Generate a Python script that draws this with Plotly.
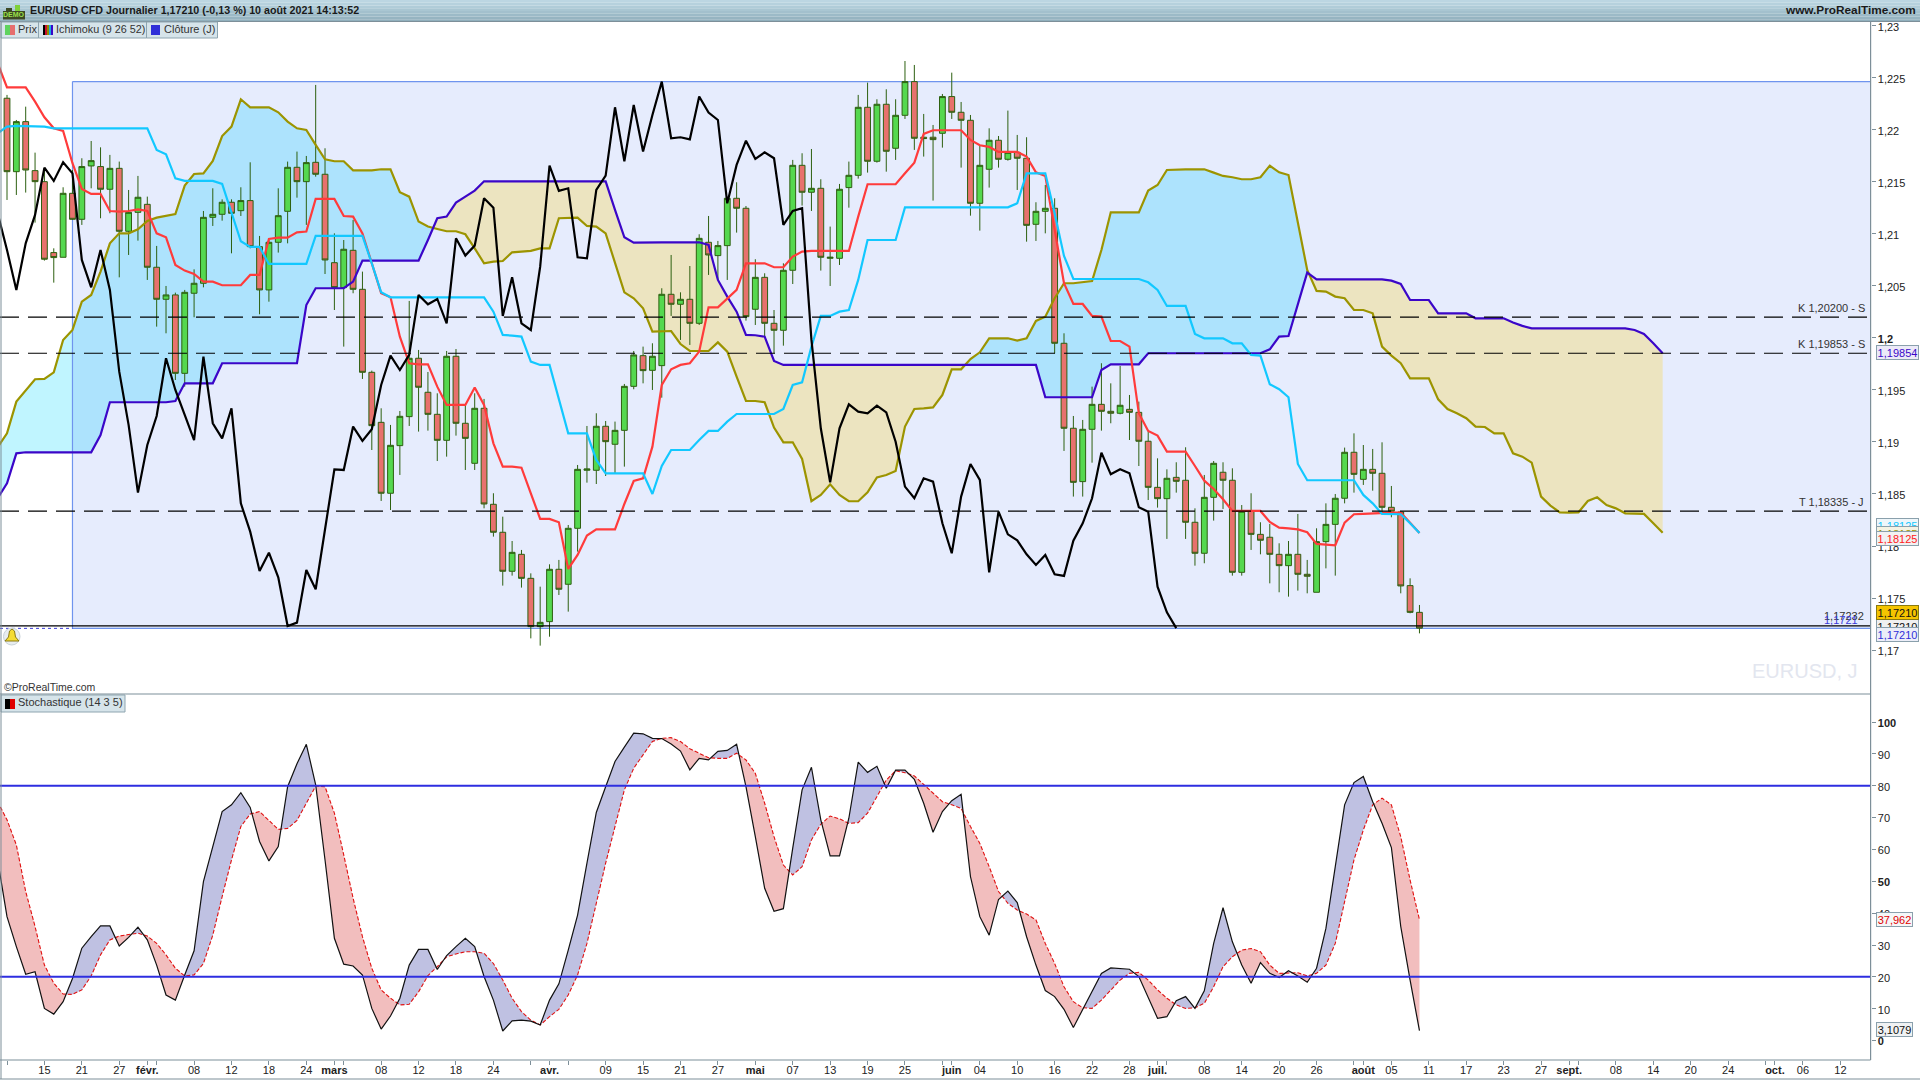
import numpy as np
import plotly.graph_objects as go

W, H = 1920, 1080
FONT = "Liberation Sans"

# ---------------- data ----------------
first_day = "2021-01-11"
open_ = [1.22305,1.21599,1.22080,1.21609,1.21503,1.20821,1.20776,1.21391,1.21141,1.21654,
1.21648,1.21430,1.21631,1.21026,1.21208,1.21285,1.20680,1.20372,1.20414,1.19660,
1.20430,1.20526,1.21160,1.21189,1.21305,1.21224,1.21321,1.20878,1.20462,1.20920,
1.21218,1.21641,1.21503,1.21689,1.21574,1.20724,1.20484,1.20843,1.20468,1.19670,
1.19189,1.18507,1.18965,1.19244,1.19805,1.19478,1.19266,1.19016,1.19824,1.19180,
1.18795,1.19324,1.18401,1.18132,1.17757,1.17920,1.17689,1.17225,1.17273,1.17776,
1.17632,1.18170,1.18728,1.18728,1.19151,1.18978,1.19112,1.19535,1.19830,1.19689,
1.19734,1.20420,1.20324,1.20372,1.20141,1.20920,1.20792,1.20888,1.21343,1.21247,
1.20276,1.20583,1.20141,1.20074,1.20651,1.21660,1.21401,1.21439,1.20766,1.20766,
1.21446,1.21564,1.22218,1.21699,1.22247,1.21824,1.22141,1.22465,1.21930,1.21930,
1.21968,1.22321,1.22170,1.22093,1.21295,1.21622,1.21901,1.21718,1.21785,1.21728,
1.21093,1.21218,1.21247,1.19949,1.19132,1.18619,1.19122,1.19362,1.19295,1.19276,
1.19314,1.19285,1.19007,1.18564,1.18455,1.18660,1.18632,1.18228,1.17930,1.18468,
1.18709,1.18632,1.17747,1.18334,1.18112,1.18084,1.17920,1.17811,1.17920,1.17728,
1.17555,1.18042,1.18208,1.18459,1.18901,1.18641,1.18737,1.18699,1.18372,1.18327,
1.17619,1.17362]
high = [1.22337,1.22096,1.22224,1.21782,1.21631,1.20862,1.21449,1.21615,1.21728,1.21894,
1.21833,1.21760,1.21696,1.21423,1.21558,1.21359,1.20885,1.20500,1.20436,1.20462,
1.20660,1.21221,1.21439,1.21333,1.21333,1.21449,1.21689,1.20981,1.20942,1.21439,
1.21696,1.21792,1.21750,1.22433,1.21824,1.21006,1.20942,1.21135,1.20638,1.19686,
1.19324,1.19164,1.19298,1.20356,1.19885,1.19673,1.19468,1.19875,1.19894,1.19356,
1.19468,1.19414,1.18507,1.18282,1.18048,1.17962,1.17737,1.17609,1.17824,1.17866,
1.18202,1.18779,1.19154,1.19276,1.19202,1.19196,1.19558,1.19875,1.19917,1.19949,
1.20478,1.20798,1.20439,1.20692,1.20997,1.21173,1.20933,1.21343,1.21497,1.21269,
1.20757,1.20622,1.20269,1.20718,1.21712,1.21776,1.21817,1.21526,1.21071,1.21481,
1.21696,1.22337,1.22455,1.22295,1.22391,1.22295,1.22663,1.22625,1.22154,1.22048,
1.22346,1.22551,1.22269,1.22144,1.21853,1.22016,1.21942,1.22186,1.21952,1.21930,
1.21305,1.21471,1.21343,1.20045,1.19250,1.19212,1.19532,1.19757,1.19564,1.19731,
1.19452,1.19388,1.19100,1.18843,1.18737,1.18805,1.18949,1.18362,1.18683,1.18817,
1.18805,1.18747,1.18394,1.18507,1.18228,1.18212,1.18026,1.18048,1.18308,1.17866,
1.18170,1.18410,1.18500,1.18946,1.19083,1.18971,1.18933,1.18997,1.18577,1.18330,
1.17689,1.17433]
low = [1.21327,1.21375,1.21398,1.21109,1.20744,1.20532,1.20776,1.21135,1.21087,1.21439,
1.21151,1.21199,1.20583,1.20798,1.20936,1.20558,1.20109,1.20045,1.19596,1.19532,
1.20199,1.20487,1.21077,1.21128,1.20814,1.21173,1.20862,1.20228,1.20349,1.20821,
1.20910,1.21349,1.21087,1.21551,1.20615,1.20269,1.19917,1.20430,1.19606,1.18923,
1.18433,1.18346,1.18683,1.19154,1.19100,1.19109,1.18817,1.18859,1.19061,1.18731,
1.18731,1.18362,1.18090,1.17619,1.17715,1.17600,1.17112,1.17042,1.17128,1.17529,
1.17369,1.17946,1.18609,1.18596,1.18673,1.18699,1.18763,1.19507,1.19564,1.19500,
1.19426,1.20212,1.19981,1.19933,1.20125,1.20606,1.20558,1.20558,1.21013,1.20167,
1.20125,1.20013,1.19853,1.19926,1.20519,1.21273,1.21221,1.20648,1.20500,1.20702,
1.21253,1.21532,1.21590,1.21686,1.21599,1.21712,1.22106,1.21808,1.21744,1.21321,
1.21830,1.22106,1.21638,1.21176,1.21032,1.21446,1.21638,1.21705,1.21423,1.20926,
1.20933,1.21006,1.19853,1.18914,1.18475,1.18475,1.18801,1.19109,1.19180,1.19266,
1.19019,1.18769,1.18442,1.18369,1.18068,1.18513,1.18068,1.17811,1.17834,1.18244,
1.18356,1.17715,1.17715,1.17962,1.17920,1.17641,1.17555,1.17513,1.17571,1.17545,
1.17555,1.17785,1.17715,1.18410,1.18513,1.18587,1.18532,1.18314,1.18276,1.17545,
1.17353,1.17160]
close = [1.21599,1.22080,1.21615,1.21503,1.20757,1.20773,1.21391,1.21141,1.21648,1.21705,
1.21430,1.21631,1.21026,1.21208,1.21353,1.20680,1.20372,1.20414,1.19660,1.20439,
1.20526,1.21160,1.21189,1.21305,1.21199,1.21321,1.20878,1.20462,1.20920,1.21176,
1.21641,1.21503,1.21686,1.21574,1.20750,1.20484,1.20853,1.20468,1.19670,1.19157,
1.18507,1.18968,1.19247,1.19805,1.19526,1.19266,1.19016,1.19824,1.19180,1.19035,
1.19324,1.18404,1.18132,1.17757,1.17939,1.17689,1.17225,1.17266,1.17776,1.17584,
1.18170,1.18737,1.18741,1.19151,1.19003,1.19112,1.19535,1.19837,1.19686,1.19824,
1.20420,1.20324,1.20372,1.20141,1.20958,1.20798,1.20888,1.21343,1.21247,1.20205,
1.20583,1.20141,1.20074,1.20651,1.21660,1.21401,1.21439,1.20776,1.20776,1.21430,
1.21564,1.22218,1.21699,1.22247,1.21795,1.22141,1.22465,1.21920,1.21917,1.21907,
1.22321,1.22170,1.22093,1.21295,1.21660,1.21901,1.21718,1.21785,1.21728,1.21083,
1.21218,1.21247,1.19949,1.19132,1.18612,1.19122,1.19362,1.19295,1.19276,1.19353,
1.19285,1.19007,1.18564,1.18455,1.18651,1.18622,1.18228,1.17930,1.18468,1.18795,
1.18632,1.17747,1.18334,1.18112,1.18055,1.17920,1.17811,1.17920,1.17728,1.17709,
1.18042,1.18208,1.18459,1.18901,1.18689,1.18737,1.18699,1.18372,1.18334,1.17616,
1.17362,1.17210]

# Ichimoku lines: each list starts one bar before the first candle
tenkan = [1.22641,1.22410,1.22410,1.22410,1.22272,1.22122,1.22016,1.21990,1.21680,1.21433,
1.21385,1.21385,1.21221,1.21215,1.21221,1.21237,1.21221,1.21006,1.20968,1.20702,
1.20648,1.20615,1.20542,1.20542,1.20507,1.20507,1.20507,1.20606,1.20606,1.20952,
1.20965,1.20965,1.21016,1.21023,1.21337,1.21337,1.21337,1.21173,1.21167,1.21006,
1.20718,1.20430,1.20391,1.20013,1.19757,1.19747,1.19747,1.19532,1.19356,1.19356,
1.19356,1.19523,1.19356,1.18987,1.18763,1.18763,1.18753,1.18507,1.18260,1.18260,
1.18228,1.17779,1.17914,1.18100,1.18160,1.18160,1.18160,1.18404,1.18625,1.18651,
1.18955,1.19548,1.19699,1.19741,1.19757,1.19869,1.20295,1.20295,1.20382,1.20462,
1.20718,1.20718,1.20718,1.20680,1.20680,1.20782,1.20830,1.20837,1.20837,1.20837,
1.20837,1.20837,1.21167,1.21478,1.21478,1.21478,1.21478,1.21583,1.21686,1.21962,
1.21997,1.21997,1.21997,1.21997,1.21904,1.21853,1.21837,1.21789,1.21789,1.21789,
1.21744,1.21593,1.21558,1.21023,1.20526,1.20327,1.20327,1.20212,1.20205,1.19971,
1.19971,1.19917,1.19276,1.19106,1.19061,1.18907,1.18907,1.18907,1.18769,1.18628,
1.18548,1.18449,1.18337,1.18337,1.18337,1.18337,1.18231,1.18176,1.18170,1.18160,
1.18132,1.18020,1.18013,1.18007,1.18225,1.18305,1.18308,1.18314,1.18321,1.18321,
1.18321,1.18218,1.18125]
kijun = [1.21968,1.22032,1.22039,1.22039,1.22039,1.22032,*[1.22016]*11,1.21808,1.21766,1.21535,
*[1.21510]*4,1.21481,1.21199,1.20930,1.20875,1.20875,*[1.20712]*5,*[1.20981]*6,1.20718,1.20439,
*[1.20391]*11,1.20253,1.20029,1.20023,1.20013,1.19773,1.19741,1.19741,1.19404,1.19083,1.19083,1.19083,
1.18827,*[1.18699]*5,1.18500,1.18769,1.18923,1.18923,1.18923,1.19019,1.19106,1.19106,1.19196,
*[1.19269]*5,1.19317,1.19548,1.19574,1.19917,1.20212,1.20212,1.20253,1.20269,1.20558,*[1.20942]*4,
*[1.21256]*12,1.21295,1.21583,1.21583,1.21583,1.21199,1.20789,*[1.20567]*8,1.20535,1.20462,
1.20308,1.20308,1.20308,1.20039,1.19997,1.19997,1.19997,1.19949,1.19949,1.19837,1.19830,1.19555,
1.19507,1.19430,1.18789,*[1.18632]*6,1.18491,1.18410,1.18308,1.18305,1.18305,1.18218,1.18125]
senkou_a = [1.18949,1.19083,1.19388,1.19494,1.19603,1.19606,1.19670,1.19981,1.20077,1.20349,
1.20414,1.20638,1.20910,1.21006,1.21006,1.21045,1.21125,1.21157,1.21173,1.21192,
1.21465,1.21577,1.21583,1.21702,1.21942,1.22032,1.22295,1.22218,1.22218,1.22218,
1.22170,1.22080,1.22016,1.22000,1.21856,1.21718,1.21699,1.21699,1.21612,1.21612,
1.21612,1.21622,1.21622,1.21401,1.21359,1.21119,1.21071,1.21048,1.21026,1.21026,
1.20997,1.20862,1.20718,1.20734,1.20740,1.20824,1.20830,1.20837,1.20862,1.20862,
1.21151,1.21157,1.21157,1.21077,1.21071,1.21006,1.20718,1.20439,1.20382,1.20285,
1.20061,1.20061,1.20067,1.19942,1.19875,1.19875,1.19875,1.19958,1.19869,1.19628,
1.19394,1.19394,1.19382,1.19138,1.18997,1.18997,1.18837,1.18430,1.18491,1.18593,
1.18491,1.18430,1.18430,1.18516,1.18660,1.18683,1.18721,1.19148,1.19317,1.19324,
1.19333,1.19452,1.19699,1.19699,1.19798,1.19862,1.19997,1.19997,1.19997,1.19974,
1.19997,1.20164,1.20205,1.20382,1.20526,1.20526,1.20535,1.20548,1.20846,1.21208,
1.21208,1.21208,1.21208,1.21417,1.21471,1.21615,1.21622,1.21622,1.21622,1.21622,
1.21590,1.21558,1.21545,1.21526,1.21526,1.21545,1.21657,1.21593,1.21567,1.21103,
1.20654,1.20452,1.20446,1.20398,1.20382,1.20269,1.20269,1.20237,1.19917,1.19830,
1.19757,1.19612,1.19612,1.19612,1.19410,1.19317,1.19276,1.19228,1.19148,1.19144,
1.19083,1.19083,1.18891,1.18859,1.18801,1.18475,1.18388,1.18324,1.18321,1.18324,
1.18433,1.18468,1.18394,1.18362,1.18314,1.18314,1.18308,1.18218,1.18128]
senkou_b = [1.18459,1.18603,1.18891,*[1.18901]*8,1.19067,*[1.19382]*7,1.19394,*[1.19564]*4,
*[1.19757]*9,1.20317,*[1.20478]*4,1.20542,*[1.20744]*7,1.20942,1.21151,1.21167,1.21301,1.21359,1.21417,
*[1.21506]*14,1.21231,1.20968,1.20917,*[1.20920]*7,1.20894,1.20558,1.20398,1.20253,1.20029,1.20026,1.20013,
1.19779,*[1.19741]*28,*[1.19430]*6,1.19692,*[1.19747]*4,*[1.19853]*13,1.19891,1.20013,1.20019,1.20317,1.20628,
*[1.20564]*8,1.20551,1.20519,1.20365,1.20365,1.20365,*[1.20237]*4,*[1.20189]*4,1.20148,1.20116,*[1.20093]*11,
1.20077,1.20039,1.19949,1.19854]
chikou = [1.21199,1.20846,1.20462,1.20910,1.21183,1.21638,1.21510,1.21689,1.21583,1.20750,
1.20487,1.20846,1.20462,1.19676,1.19164,1.18513,1.18971,1.19250,1.19805,1.19500,
1.19260,1.19019,1.19821,1.19180,1.19035,1.19324,1.18410,1.18138,1.17760,1.17936,
1.17699,1.17231,1.17263,1.17769,1.17584,1.18160,1.18737,1.18731,1.19148,1.19010,
1.19122,1.19548,1.19830,1.19692,1.19837,1.20414,1.20324,1.20375,1.20141,1.20958,
1.20792,1.20888,1.21343,1.21253,1.20212,1.20583,1.20141,1.20077,1.20686,1.21657,
1.21414,1.21439,1.20776,1.20766,1.21423,1.21561,1.22218,1.21699,1.22240,1.21792,
1.22144,1.22465,1.21920,1.21930,1.21910,1.22321,1.22167,1.22096,1.21295,1.21664,
1.21897,1.21721,1.21785,1.21728,1.21087,1.21221,1.21247,1.19981,1.19132,1.18612,
1.19132,1.19362,1.19292,1.19276,1.19350,1.19285,1.19003,1.18571,1.18459,1.18651,
1.18619,1.18218,1.17930,1.18475,1.18789,1.18635,1.17747,1.18330,1.18112,1.18055,
1.17920,1.17818,1.17914,1.17728,1.17712,1.18051,1.18218,1.18459,1.18898,1.18689,
1.18737,1.18699,1.18372,1.18330,1.17609,1.17362,1.17210]

stoch_k = [56.7,38.9,29.5,20.8,21.6,10.1,8.3,12.2,19.5,29.0,
32.6,36.0,36.0,29.7,32.4,35.6,31.6,23.7,14.3,12.7,
20.6,28.2,49.9,60.9,71.9,74.0,77.8,73.2,62.5,56.4,
60.9,79.7,86.9,93.0,80.3,56.7,32.1,24.0,23.4,20.6,
10.1,3.6,7.7,13.3,23.7,28.6,28.6,22.3,26.7,29.5,
32.1,29.5,20.1,12.7,3.0,6.2,6.4,6.1,4.9,12.7,
17.8,28.4,39.4,55.7,71.6,79.7,87.6,92.1,96.5,96.3,
94.9,94.8,93.1,90.9,85.0,88.6,88.1,90.8,91.1,93.0,
79.7,64.0,47.8,40.6,41.4,60.4,78.7,85.8,69.3,58.0,
58.0,69.8,87.4,84.2,86.1,79.2,84.9,84.9,82.0,74.5,
65.4,71.9,75.3,77.3,51.5,38.9,33.1,44.3,46.9,43.3,
32.6,23.7,15.7,13.8,9.8,4.1,9.6,15.3,21.1,22.8,
22.5,22.4,20.1,13.8,7.0,7.5,12.5,13.8,10.1,15.6,
30.5,41.7,31.0,23.7,18.0,24.5,21.1,19.8,21.9,20.3,
18.3,22.7,35.2,54.6,74.0,81.0,82.9,75.0,68.2,60.6,
35.8,19.0,3.1079]
stoch_d = [75.0,69.3,61.4,46.8,35.8,23.7,18.0,14.6,14.5,15.9,
20.3,26.9,31.6,32.8,33.3,33.7,32.8,30.5,26.9,22.7,
20.3,20.6,24.2,33.1,45.2,56.7,67.2,71.1,71.9,69.1,
66.3,66.6,69.1,74.5,79.9,79.7,71.4,58.3,44.7,32.6,
22.7,15.9,13.3,11.2,11.4,15.3,20.4,23.2,26.3,27.2,
27.9,27.9,27.4,24.2,19.0,13.3,9.1,6.4,4.9,7.5,
9.8,14.3,20.6,30.5,43.1,55.7,67.2,78.7,85.5,89.7,
93.9,94.9,95.1,93.9,91.6,90.2,88.8,88.6,88.6,90.2,
88.1,83.9,74.5,64.0,55.1,52.0,54.6,63.0,67.9,70.5,
69.6,68.2,68.4,71.4,76.8,81.8,84.7,84.1,83.1,80.3,
77.8,75.0,74.0,72.9,67.2,61.9,54.6,46.8,43.1,41.0,
39.7,37.9,30.5,24.2,16.9,12.2,10.3,10.1,12.7,15.9,
19.0,21.1,21.4,19.0,15.9,13.3,11.2,10.1,10.3,11.7,
16.9,23.2,26.3,28.4,28.9,27.9,23.7,21.1,21.3,21.3,
20.3,21.1,23.7,30.5,43.6,56.7,66.1,74.0,76.1,74.0,
64.0,50.4,37.962]

price_ticks = [1.17,1.175,1.18,1.185,1.19,1.195,1.2,1.205,1.21,1.215,1.22,1.225,1.23]
stoch_ticks = [0,10,20,30,40,50,60,70,80,90,100]
date_ticks = [("2021-01-15","15"),("2021-01-21","21"),("2021-01-27","27"),("2021-02-01","<b>févr.</b>"),
 ("2021-02-08","08"),("2021-02-12","12"),("2021-02-18","18"),("2021-02-24","24"),("2021-03-01","<b>mars</b>"),
 ("2021-03-08","08"),("2021-03-12","12"),("2021-03-18","18"),("2021-03-24","24"),("2021-04-01","<b>avr.</b>"),
 ("2021-04-09","09"),("2021-04-15","15"),("2021-04-21","21"),("2021-04-27","27"),("2021-05-03","<b>mai</b>"),
 ("2021-05-07","07"),("2021-05-13","13"),("2021-05-19","19"),("2021-05-25","25"),("2021-06-01","<b>juin</b>"),
 ("2021-06-04","04"),("2021-06-10","10"),("2021-06-16","16"),("2021-06-22","22"),("2021-06-28","28"),
 ("2021-07-01","<b>juil.</b>"),("2021-07-08","08"),("2021-07-14","14"),("2021-07-20","20"),("2021-07-26","26"),
 ("2021-08-02","<b>août</b>"),("2021-08-05","05"),("2021-08-11","11"),("2021-08-17","17"),("2021-08-23","23"),
 ("2021-08-27","27"),("2021-09-01","<b>sept.</b>"),("2021-09-08","08"),("2021-09-14","14"),("2021-09-20","20"),
 ("2021-09-24","24"),("2021-10-01","<b>oct.</b>"),("2021-10-06","06"),("2021-10-12","12")]
extra_tick_bars = [0,16,36,56,60,100,124,144,168,188]

level_kijun_s = 1.20200
level_kijun_s2 = 1.19853
level_tenkan_j = 1.18335
level_last = 1.17232
zone_start_bar, zone_top, zone_bottom = 7, 1.22465, 1.17208
stoch_levels = [80, 20]

# ---------------- geometry (pixels of the page) ----------------
AX_RIGHT = 1870.6
MAIN_TOP, MAIN_BOTTOM, STO_BOTTOM = 22, 694, 1060
x_range = [-0.748, 199.23]
y_range = [1.16577, 1.23038]
s_range = [-6.1, 108.8]

def px(x): return x / W
def py(y): return 1 - y / H

fig = go.Figure()

def band(a, b, colour_a_up, colour_b_up, xa, ya, only=None):
    """Filled area between two series, coloured by which one is on top."""
    n = min(len(a), len(b))
    xs = list(range(-1, n - 1))
    def flush(rx, ra, rb):
        up = sum(ra) >= sum(rb)
        if only == "a" and not up:
            return
        if only == "b" and up:
            return
        fig.add_trace(go.Scatter(x=rx + rx[::-1], y=ra + rb[::-1], mode="none", fill="toself",
                                 fillcolor=colour_a_up if up else colour_b_up, hoverinfo="skip",
                                 showlegend=False, xaxis=xa, yaxis=ya))
    rx, ra, rb = [xs[0]], [a[0]], [b[0]]
    for k in range(1, n):
        d0, d1 = a[k-1] - b[k-1], a[k] - b[k]
        if d0 * d1 < 0:
            t = d0 / (d0 - d1)
            xc = xs[k-1] + t
            yc = a[k-1] + t * (a[k] - a[k-1])
            rx.append(xc); ra.append(yc); rb.append(yc)
            flush(rx, ra, rb)
            rx, ra, rb = [xc], [yc], [yc]
        rx.append(xs[k]); ra.append(a[k]); rb.append(b[k])
    flush(rx, ra, rb)

def line(vals, colour, width, xa="x", ya="y3", dash=None, start=-1):
    fig.add_trace(go.Scatter(x=list(range(start, start + len(vals))), y=vals, mode="lines",
                             line=dict(color=colour, width=width, dash=dash), hoverinfo="skip",
                             showlegend=False, xaxis=xa, yaxis=ya))

# blue cloud, translucent zone on top of it, then the beige cloud above the zone
band(senkou_a, senkou_b, "#c0f5ff", "#ece4c0", "x", "y", only="a")
zx = [zone_start_bar, x_range[1], x_range[1], zone_start_bar, zone_start_bar]
zy = [zone_top, zone_top, zone_bottom, zone_bottom, zone_top]
fig.add_trace(go.Scatter(x=zx, y=zy, mode="lines", fill="toself", fillcolor="rgba(5,65,235,0.1)",
                         line=dict(color="#6f94ee", width=1.2), hoverinfo="skip", showlegend=False,
                         xaxis="x", yaxis="y"))
band(senkou_a, senkou_b, "#c0f5ff", "#ece4c0", "x", "y", only="b")

# candles and lines on an overlaying axis so that they sit above the cloud
fig.add_trace(go.Candlestick(x=list(range(len(open_))), open=open_, high=high, low=low, close=close,
    increasing=dict(line=dict(color="#2d6010", width=1), fillcolor="#55d84f"),
    decreasing=dict(line=dict(color="#2d6010", width=1), fillcolor="#e8716d"),
    whiskerwidth=0, hoverinfo="skip", showlegend=False, xaxis="x", yaxis="y3"))
line(senkou_a, "#9c9400", 2.2)
line(senkou_b, "#3b06c8", 2.2)
line(tenkan, "#ff3b3b", 2.2)
line(kijun, "#12c8ff", 2.2)
line(chikou, "#000000", 2.2)

# stochastic
band(stoch_k, stoch_d, "#bfc1e2", "#f2bebe", "x2", "y2")
line(stoch_d, "#e01010", 1.1, "x2", "y2", dash="4px,2px")
line(stoch_k, "#111111", 1.2, "x2", "y2")
for lv in stoch_levels:
    fig.add_trace(go.Scatter(x=x_range, y=[lv, lv], mode="lines", line=dict(color="#2e2ee0", width=2),
                             hoverinfo="skip", showlegend=False, xaxis="x2", yaxis="y2"))

# ---------------- furniture ----------------
shapes, ann = [], []
def rect(x0, y0, x1, y1, fill, border=None, bw=1):
    shapes.append(dict(type="rect", xref="paper", yref="paper", x0=px(x0), x1=px(x1), y0=py(y0), y1=py(y1),
                       fillcolor=fill, line=dict(color=border or fill, width=bw if border else 0), layer="above"))
def hpx(x0, x1, y, colour, w=1, dash=None):
    shapes.append(dict(type="line", xref="paper", yref="paper", x0=px(x0), x1=px(x1), y0=py(y), y1=py(y),
                       line=dict(color=colour, width=w, dash=dash), layer="above"))
def vpx(x, y0, y1, colour, w=1):
    shapes.append(dict(type="line", xref="paper", yref="paper", x0=px(x), x1=px(x), y0=py(y0), y1=py(y1),
                       line=dict(color=colour, width=w), layer="above"))
def txt(x, y, s, size=11, colour="#222222", anchor="left", **kw):
    ann.append(dict(xref="paper", yref="paper", x=px(x), y=py(y - 1.5), text=s, showarrow=False, xanchor=anchor,
                    yanchor="middle", font=dict(family=FONT, size=size, color=colour), borderpad=0, **kw))
def box(y, s, colour, fill="#eef1f3", border="#8aa0ac", w=41, x=1876):
    ann.append(dict(xref="paper", yref="paper", x=px(x), y=py(y - 1), text=s, showarrow=False, xanchor="left",
                    yanchor="middle", width=w, height=13, align="center", bgcolor=fill, bordercolor=border,
                    borderwidth=1, borderpad=0, font=dict(family=FONT, size=11, color=colour)))

def level(y_val):
    shapes.append(dict(type="line", xref="x", yref="y3", x0=x_range[0], x1=x_range[1], y0=y_val, y1=y_val,
                       line=dict(color="#000000", width=1.2, dash="19px,9px"), layer="above"))
for v in (level_kijun_s, level_kijun_s2, level_tenkan_j):
    level(v)
shapes.append(dict(type="line", xref="x", yref="y3", x0=x_range[0], x1=x_range[1], y0=level_last, y1=level_last,
                   line=dict(color="#000000", width=1.3), layer="above"))
shapes.append(dict(type="line", xref="x", yref="y3", x0=x_range[0], x1=zone_start_bar, y0=zone_bottom, y1=zone_bottom,
                   line=dict(color="#3a3ad8", width=1, dash="3px,3px"), layer="above"))

# title bar
bands = ["#bcd6e2", "#b6d1dd", "#b0ccd8", "#a9c6d2", "#a3c0cd", "#9cbac7", "#96b4c1", "#90afbc"]
for k, c in enumerate(bands):
    rect(0, k * 2.75, W, (k + 1) * 2.75, c)
hpx(0, W, 21.5, "#7d8f99", 1)
txt(29, 12, "<b>EUR/USD CFD Journalier 1,17210 (-0,13 %) 10 août 2021 14:13:52</b>", 10.7, "#1a1a1a")
txt(1917, 12, "<b>www.ProRealTime.com</b>", 11.8, "#1a1a1a", "right")
# demo badge
rect(3, 11, 25, 19.5, "#3d4a25")
rect(6, 8, 12, 11, "#3d4a25")
rect(15, 5, 20, 11, "#7fd03a")
txt(14, 16.5, "<b>DEMO</b>", 7, "#9be04a", "center")

# legend chips
for x0, x1 in ((1, 38.5), (38.5, 146.5), (146.5, 217.5)):
    rect(x0, 22, x1, 38, "#d6e4ea", "#8ea5b0")
rect(5, 25, 10, 35, "#5ed35e"); rect(10, 25, 15, 35, "#e66e6e")
for k, c in enumerate(["#000000", "#c8102e", "#8c8c00", "#18a8e0", "#3b06c8"]):
    rect(43 + 2 * k, 25, 45 + 2 * k, 35, c)
rect(151, 25, 160, 35, "#3030d8")
txt(17, 30.5, "Prix", 11, "#333333")
txt(55, 30.5, "Ichimoku (9 26 52)", 10.8, "#333333")
txt(163, 30.5, "Clôture (J)", 11, "#333333")
rect(1, 695, 125, 712, "#d6e4ea", "#8ea5b0")
rect(5, 699, 10, 709, "#000000"); rect(10, 699, 15, 709, "#e00000")
txt(17, 703.5, "Stochastique (14 3 5)", 11, "#333333")

# bell
shapes.append(dict(type="circle", xref="paper", yref="paper", x0=px(3.5), x1=px(20), y0=py(645), y1=py(628),
                   fillcolor="#e8edf0", line=dict(color="#c8d2d8", width=1), layer="above"))
def pth(pts):
    return "M " + " L ".join(f"{px(a):.5f} {py(b):.5f}" for a, b in pts) + " Z"
shapes.append(dict(type="path", xref="paper", yref="paper",
                   path=pth([(12, 629), (14.5, 631), (15.5, 637), (19, 641), (5, 641), (8.5, 637), (9.5, 631)]),
                   fillcolor="#f4dc34", line=dict(color="#8a7a10", width=1), layer="above"))

# borders
vpx(AX_RIGHT, 22, STO_BOTTOM, "#7d8f99", 1.2)
vpx(1, 22, 1079, "#7d8f99", 1)
hpx(0, AX_RIGHT, MAIN_BOTTOM, "#7d8f99", 1.2)
hpx(0, AX_RIGHT, STO_BOTTOM, "#7d8f99", 1.2)
hpx(0, W, 1079, "#7d8f99", 1)

# texts on the chart
txt(1866, 309, "K 1,20200 - S", 11, "#333333", "right")
txt(1866, 345, "K 1,19853 - S", 11, "#333333", "right")
txt(1865, 503, "T 1,18335 - J", 11, "#333333", "right")
txt(1865, 617.5, "1,17232", 11, "#333333", "right")
txt(1859, 621, "1,1721", 11, "#3a3ad8", "right")
txt(1859, 672, "EURUSD, J", 20, "#e3e6ef", "right")
txt(3, 688, "©ProRealTime.com", 10.5, "#333333")

# value boxes
box(353.5, "1,19854", "#3b06c8", "#eceaf8")
box(526, "1,18125", "#12c8ff", "#eef6fa")
box(534, "1,18125", "#9c9400", "#f4f3e4")
box(540, "1,18125", "#ff2020", "#f2f2f2")
box(627, "1,17210", "#111111", "#f0f0f0")
box(613, "1,17210", "#111111", "#f5c400", "#8a7a10")
box(635.5, "1,17210", "#3030d8", "#eceef8")
box(920, "37,962", "#e00000", "#f5f7f8", w=35)
box(1030, "3,1079", "#111111", "#f0f2f3", w=35)

def tick_fmt(v):
    s = f"{v:g}".replace(".", ",")
    return f"<b>{s}</b>" if abs(v - 1.2) < 1e-9 else s

start = np.datetime64(first_day)
date_vals = [int(np.busday_count(start, np.datetime64(d))) for d, _ in date_ticks]
date_text = [t for _, t in date_ticks]
x_vals = date_vals + extra_tick_bars
x_text = date_text + [""] * len(extra_tick_bars)

axis_font = dict(family=FONT, size=11, color="#222222")
fig.update_layout(
    width=W, height=H, autosize=False, margin=dict(l=0, r=0, t=0, b=0),
    paper_bgcolor="white", plot_bgcolor="white", showlegend=False, dragmode=False,
    font=dict(family=FONT, size=11), shapes=shapes, annotations=ann, boxgap=0.38, boxgroupgap=0,
    xaxis=dict(domain=[0, AX_RIGHT / W], range=x_range, anchor="y", showgrid=False, zeroline=False,
               showticklabels=False, ticks="", rangeslider=dict(visible=False), fixedrange=True),
    xaxis2=dict(domain=[0, AX_RIGHT / W], range=x_range, anchor="y2", showgrid=False, zeroline=False,
                tickmode="array", tickvals=x_vals, ticktext=x_text, ticks="outside", ticklen=4, tickcolor="#7d8f99",
                tickangle=0, tickfont=axis_font, fixedrange=True, ticklabelstandoff=-4),
    yaxis=dict(domain=[py(MAIN_BOTTOM), py(MAIN_TOP)], range=y_range, anchor="x", side="right", showgrid=False,
               zeroline=False, tickmode="array", tickvals=price_ticks, ticktext=[tick_fmt(v) for v in price_ticks],
               ticks="outside", ticklen=4, tickcolor="#7d8f99", tickfont=axis_font, fixedrange=True, ticklabelshift=1),
    yaxis2=dict(domain=[py(STO_BOTTOM), py(MAIN_BOTTOM)], range=s_range, anchor="x2", side="right", showgrid=False,
                zeroline=False, tickmode="array", tickvals=stoch_ticks,
                ticktext=[f"<b>{v}</b>" if v in (0, 50, 100) else str(v) for v in stoch_ticks],
                ticks="outside", ticklen=4, tickcolor="#7d8f99", tickfont=axis_font, fixedrange=True, ticklabelshift=1),
    yaxis3=dict(overlaying="y", range=y_range, anchor="x", side="right", showgrid=False, zeroline=False,
                showticklabels=False, ticks="", fixedrange=True),
)

fig.write_html("out.html", config=dict(displayModeBar=False),
               post_script="document.body.style.margin='0';document.body.style.overflow='hidden';")
